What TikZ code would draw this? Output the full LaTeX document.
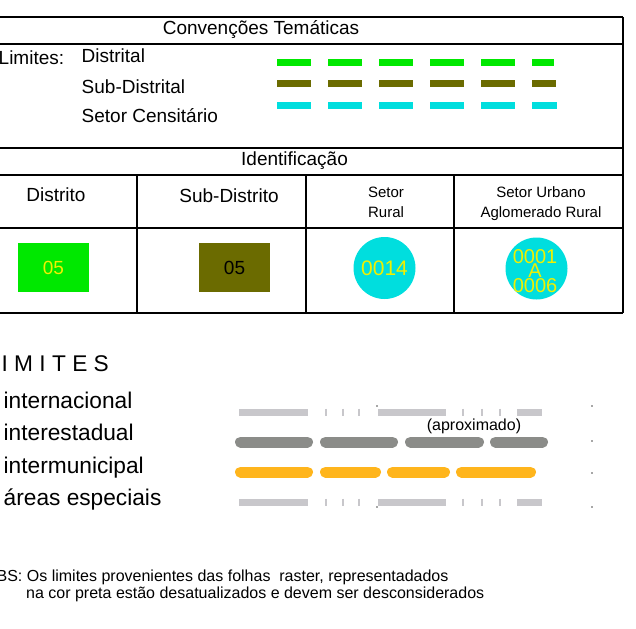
\documentclass[tikz,border=0pt]{standalone}
\usepackage{fontspec}
\setmainfont{Liberation Sans}
\definecolor{distgreen}{RGB}{0,232,0}
\definecolor{subolive}{RGB}{107,107,0}
\definecolor{setorcyan}{RGB}{0,222,222}
\definecolor{textyellow}{RGB}{240,240,0}
\definecolor{lightline}{RGB}{200,199,203}
\definecolor{stateline}{RGB}{139,140,137}
\definecolor{munline}{RGB}{255,181,28}
\tikzset{
  table line/.style={line width=2pt},
  head text/.style={inner sep=0pt, anchor=base, font=\fontsize{19}{21}\selectfont},
  legend text/.style={head text, anchor=base west},
  small text/.style={inner sep=0pt, anchor=base, align=center, font=\fontsize{15}{19}\selectfont},
  dash line/.style={line width=7pt, dash pattern=on 34pt off 17pt},
  box symbol/.style={inner sep=0pt, minimum width=71pt, minimum height=49pt, font=\fontsize{19}{21}\selectfont},
  circle symbol/.style={circle, fill=setorcyan, inner sep=0pt, minimum size=62pt, text=textyellow},
  code text/.style={inner sep=0pt, anchor=base, align=center, text=textyellow, font=\fontsize{20}{14.5}\selectfont},
  limit text/.style={inner sep=0pt, anchor=base west, font=\fontsize{22.7}{26}\selectfont},
  intl line/.style={lightline, line width=7pt},
  tick line/.style={lightline, line width=1.5pt},
  round line/.style={line width=11pt, line cap=round},
  dot/.style={black!70},
  note text/.style={inner sep=0pt, anchor=base, font=\fontsize{16}{19}\selectfont},
  obs text/.style={note text, anchor=base west}
}
\begin{document}
\begin{tikzpicture}[x=1pt,y=-1pt]
\useasboundingbox (0,0) rectangle (636,628);
% quadro das convencoes
\foreach \y in {17,44,148.5,175,227.5,313}
  \draw[table line] (-5,\y) -- (623,\y);
\draw[table line] (623,17) -- (623,313);
\foreach \x in {137,306,454}
  \draw[table line] (\x,175) -- (\x,313);

\node[head text] (convencoes) at (261,35) {Convenções Temáticas};
\node[legend text] (limites) at (-1.5,65) {Limites:};
\node[legend text] (distrital) at (81.5,63) {Distrital};
\node[legend text] (subdistrital) at (81.5,94) {Sub-Distrital};
\node[legend text] (censitario) at (81.5,123) {Setor Censitário};
\draw[dash line, distgreen] (277,63) -- (554,63);
\draw[dash line, subolive] (277,84) -- (556,84);
\draw[dash line, setorcyan] (277,106) -- (557,106);

% identificacao
\node[head text] (identificacao) at (294.5,166) {Identificação};
\node[head text] (distrito) at (56,202) {Distrito};
\node[head text] (subdistrito) at (229,203) {Sub-Distrito};
\node[small text] (setorrural) at (386,217) {Setor\\Rural};
\node[small text] (setorurbano) at (541,217) {Setor Urbano\\Aglomerado Rural};

\node[box symbol, fill=distgreen, text=textyellow] (distritosimb) at (53.5,267.5) {05};
\node[box symbol, fill=subolive, text=black] (subdistritosimb) at (234.5,267.5) {05};
\node[circle symbol, font=\fontsize{21}{21}\selectfont] (ruralsimb) at (384.5,268) {0014};
\node[circle symbol] (urbanosimb) at (536.5,268.5) {};
\node[code text] (urbanocod) at (535,292) {0001\\A\\0006};

% limites
\node[limit text] (limitestitulo) at (-17.5,371) {L I M I T E S};
\node[limit text] (internacional) at (3.5,408) {internacional};
\node[limit text] (interestadual) at (3.5,440.5) {interestadual};
\node[limit text] (intermunicipal) at (3.5,473) {intermunicipal};
\node[limit text] (especiais) at (3.5,505.5) {áreas especiais};

\foreach \a/\b in {239/308,378/446,517/542} {
  \draw[intl line] (\a,412) -- (\b,412);
  \draw[intl line] (\a,502) -- (\b,502);
}
\foreach \x in {326,343,359,463,482,500} {
  \draw[tick line] (\x,408.5) -- (\x,415.5);
  \draw[tick line] (\x,498.5) -- (\x,505.5);
}
\foreach \a/\b in {235/313,320/398,405/484,490/548}
  \draw[round line, stateline] ({\a+5.5},442) -- ({\b-5.5},442);
\foreach \a/\b in {235/313,320/381,387/450,456/536}
  \draw[round line, munline] ({\a+5.5},472) -- ({\b-5.5},472);
\node[note text] (aproximado) at (474,430) {(aproximado)};

\foreach \x/\y in {592/406,592/441,592/473,592/507,377/406,377/507}
  \fill[dot] (\x,\y) circle (0.8);

% observacao
\node[obs text] (obs) at (-16,581) {OBS: Os limites provenientes das folhas \ raster, representadados};
\node[obs text] (obsb) at (26,598) {na cor preta estão desatualizados e devem ser desconsiderados};
\end{tikzpicture}
\end{document}
